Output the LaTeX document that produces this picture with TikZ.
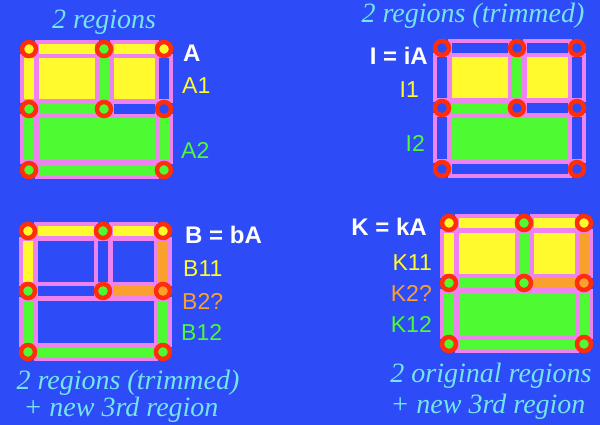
\documentclass[tikz,border=0pt]{standalone}
\usepackage{fontspec}
\setmainfont{Liberation Serif}
\setsansfont{Liberation Sans}
\usepackage{tikz}
\definecolor{bgblue}{RGB}{45,75,246}
\definecolor{rimpink}{RGB}{238,130,238}
\definecolor{ringred}{RGB}{255,45,10}
\definecolor{yel}{RGB}{255,250,45}
\definecolor{grn}{RGB}{78,250,50}
\definecolor{org}{RGB}{250,160,45}
\definecolor{capcyan}{RGB}{115,230,235}
\tikzset{
    face/.style={draw=rimpink, line width=4pt, fill=#1},
    rim/.style={draw=rimpink, line width=17.6pt, shorten <=5.5pt, shorten >=5.5pt},
    bar/.style={draw=#1, line width=9.6pt, shorten <=9.5pt, shorten >=9.5pt},
    vtx/.style={circle, draw=ringred, line width=4.5pt, fill=#1, minimum size=14pt, inner sep=0pt},
    heading/.style={font=\itshape\fontsize{28}{30}\selectfont, text=capcyan, inner sep=0pt, anchor=base},
    opname/.style={font=\sffamily\bfseries\fontsize{24}{26}\selectfont, text=white, inner sep=0pt},
    sublabel/.style={font=\sffamily\fontsize{23}{25}\selectfont, text=#1, inner sep=0pt},
}
% corners of the 2x2 grid with the merged bottom cell
\newcommand{\cellgrid}{%
  \foreach \n/\x/\y in {t1/0/0, t2/75/0, t3/135/0, m1/0/60, m2/75/60, m3/135/60, b1/0/121, b3/135/121}
    \coordinate (\n) at (\x,\y);}
\newcommand{\regionbox}[3]{\path[face=#1] ([shift={(7.5,7.5)}]#2) rectangle ([shift={(-7.5,-7.5)}]#3);}

\begin{document}
\begin{tikzpicture}[x=1pt, y=-1pt]
  \useasboundingbox (0,0) rectangle (600,425);
  \fill[bgblue] (0,0) rectangle (600,425);

  % A
  \begin{scope}[shift={(29,49)}]
    \cellgrid
    \regionbox{yel}{t1}{m2}
    \regionbox{yel}{t2}{m3}
    \regionbox{grn}{m1}{b3}
    \foreach \a/\b/\c in {t1/t2/yel, t2/t3/yel, m1/m2/grn, m2/m3/bgblue, b1/b3/grn,
                          t1/m1/yel, t2/m2/grn, t3/m3/bgblue, m1/b1/grn, m3/b3/grn}
      {\draw[rim] (\a) -- (\b); \draw[bar=\c] (\a) -- (\b);}
    \foreach \n/\c in {t1/yel, t2/grn, t3/yel, m1/grn, m2/grn, m3/bgblue, b1/grn, b3/grn}
      \node[vtx=\c] (A\n) at (\n) {};
  \end{scope}

  % I = iA
  \begin{scope}[shift={(442,48)}]
    \cellgrid
    \regionbox{yel}{t1}{m2}
    \regionbox{yel}{t2}{m3}
    \regionbox{grn}{m1}{b3}
    \foreach \a/\b/\c in {t1/t2/bgblue, t2/t3/bgblue, m1/m2/grn, m2/m3/bgblue, b1/b3/bgblue,
                          t1/m1/bgblue, t2/m2/grn, t3/m3/bgblue, m1/b1/bgblue, m3/b3/bgblue}
      {\draw[rim] (\a) -- (\b); \draw[bar=\c] (\a) -- (\b);}
    \foreach \n in {t1, t2, t3, m1, m2, m3, b1, b3}
      \node[vtx=bgblue] (I\n) at (\n) {};
  \end{scope}

  % B = bA
  \begin{scope}[shift={(28,231)}]
    \cellgrid
    \regionbox{bgblue}{t1}{m2}
    \regionbox{bgblue}{t2}{m3}
    \regionbox{bgblue}{m1}{b3}
    \foreach \a/\b/\c in {t1/t2/yel, t2/t3/yel, m1/m2/bgblue, m2/m3/org, b1/b3/grn,
                          t1/m1/yel, t2/m2/bgblue, t3/m3/org, m1/b1/grn, m3/b3/grn}
      {\draw[rim] (\a) -- (\b); \draw[bar=\c] (\a) -- (\b);}
    \foreach \n/\c in {t1/yel, t2/grn, t3/yel, m1/grn, m2/grn, m3/org, b1/grn, b3/grn}
      \node[vtx=\c] (B\n) at (\n) {};
  \end{scope}

  % K = kA
  \begin{scope}[shift={(449,223)}]
    \cellgrid
    \regionbox{yel}{t1}{m2}
    \regionbox{yel}{t2}{m3}
    \regionbox{grn}{m1}{b3}
    \foreach \a/\b/\c in {t1/t2/yel, t2/t3/yel, m1/m2/grn, m2/m3/org, b1/b3/grn,
                          t1/m1/yel, t2/m2/grn, t3/m3/org, m1/b1/grn, m3/b3/grn}
      {\draw[rim] (\a) -- (\b); \draw[bar=\c] (\a) -- (\b);}
    \foreach \n/\c in {t1/yel, t2/grn, t3/yel, m1/grn, m2/grn, m3/org, b1/grn, b3/grn}
      \node[vtx=\c] (K\n) at (\n) {};
  \end{scope}

  % labels
  \node[heading] (capA) at (104,29) {2 regions};
  \node[opname, anchor=base west] (nameA) at (183,62) {A};
  \node[sublabel=yel, anchor=base west] (partA1) at (182,94) {A1};
  \node[sublabel=grn, anchor=base west] (partA2) at (181,159) {A2};

  \node[heading] (capI) at (473,23) {2 regions (trimmed)};
  \node[opname, anchor=base east] (nameI) at (428,65) {I = iA};
  \node[sublabel=yel, anchor=base east] (partI1) at (419,98) {I1};
  \node[sublabel=grn, anchor=base east] (partI2) at (425,152) {I2};

  \node[opname, anchor=base west] (nameB) at (185,243) {B = bA};
  \node[sublabel=yel, anchor=base west] (partB11) at (183,276) {B11};
  \node[sublabel=org, anchor=base west] (partB2) at (182,309) {B2?};
  \node[sublabel=grn, anchor=base west] (partB12) at (181,340) {B12};
  \node[heading] (capB1) at (128,389) {2 regions (trimmed)};
  \node[heading] (capB2) at (121,416) {+ new 3rd region};

  \node[opname, anchor=base east] (nameK) at (427,235) {K = kA};
  \node[sublabel=yel, anchor=base east] (partK11) at (432,270) {K11};
  \node[sublabel=org, anchor=base east] (partK2) at (432,301) {K2?};
  \node[sublabel=grn, anchor=base east] (partK12) at (432,332) {K12};
  \node[heading] (capK1) at (491,382) {2 original regions};
  \node[heading] (capK2) at (488,413) {+ new 3rd region};
\end{tikzpicture}
\end{document}
